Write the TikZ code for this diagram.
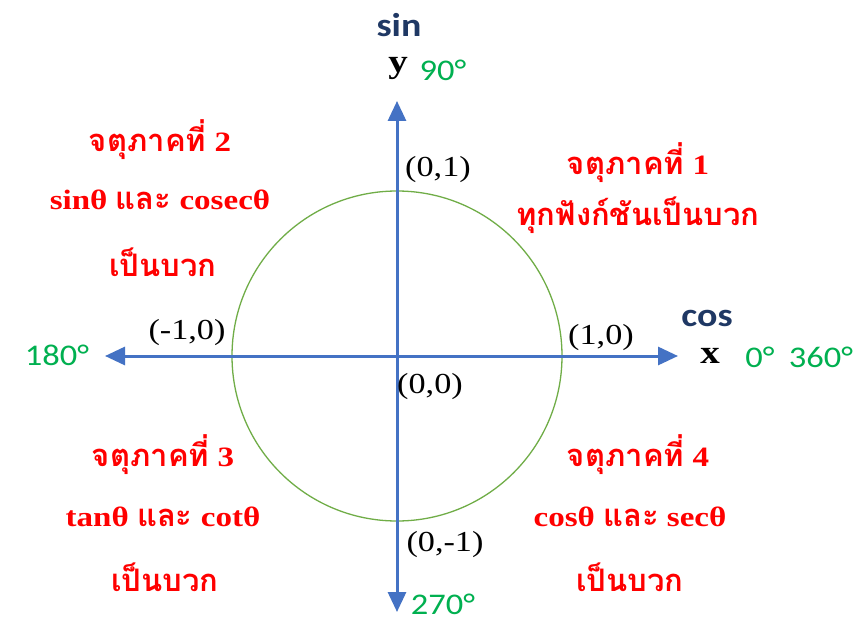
\documentclass[tikz,border=0pt]{standalone}
\usepackage{fontspec}
\setmainfont{Liberation Serif}[FakeStretch=1.18]
\newfontfamily\calib{Carlito}[FakeStretch=1.15]
\newfontfamily\thaifont[Script=Thai]{Loma}
\newcommand\thx[1]{{\thaifont\fontsize{31}{34}\selectfont #1}}
\usetikzlibrary{arrows.meta}
\definecolor{axisblue}{HTML}{4472C4}
\definecolor{circgreen}{HTML}{70AD47}
\definecolor{labgreen}{HTML}{00B050}
\definecolor{navy}{HTML}{1F3864}
\begin{document}
\begin{tikzpicture}[x=1pt,y=-1pt,
  axis/.style={draw=axisblue,line width=3pt,{Triangle[length=20pt,width=18pt]}-{Triangle[length=20pt,width=18pt]}},
  coordlab/.style={inner sep=0pt,font=\fontsize{29}{32}\selectfont},
  varlab/.style={inner sep=0pt,font=\bfseries\fontsize{33}{35}\selectfont},
  trig/.style={inner sep=0pt,text=navy,font=\calib\bfseries\fontsize{33}{36}\selectfont},
  deg/.style={inner sep=0pt,text=labgreen,font=\calib\fontsize{30}{32}\selectfont},
  quad/.style={inner sep=0pt,text=red,font=\bfseries\fontsize{28}{30}\selectfont}]
\useasboundingbox (0,0) rectangle (861,620);
\fill[white] (0,0) rectangle (861,620);
\coordinate (O) at (397,356);
\coordinate (L) at (105,356);
\coordinate (R) at (678,356);
\coordinate (T) at (397,101);
\coordinate (B) at (397,612);
\draw[circgreen,line width=1.3pt] (O) circle[radius=165];
\draw[axis] (L) -- (R);
\draw[axis] (B) -- (T);
% coordinate labels
\node[coordlab] (p01) at (438,170) {(0,1)};
\node[coordlab] (pm10) at (187,333) {(-1,0)};
\node[coordlab] (p10) at (601,338) {(1,0)};
\node[coordlab] (p00) at (430,387) {(0,0)};
\node[coordlab] (p0m1) at (445,545) {(0,-1)};
% axis names
\node[trig] (sin) at (399,25) {sin};
\node[varlab] (y) at (398,68) {y};
\node[deg] (d90) at (443,70) {90°};
\node[trig] (cos) at (707,318) {cos};
\node[varlab] (x) at (710,356) {x};
\node[deg] (d0) at (760,357) {0°};
\node[deg] (d360) at (821,357) {360°};
\node[deg] (d180) at (57,355) {180°};
\node[deg] (d270) at (443,604) {270°};
% quadrant texts
\node[quad] (q2a) at (160,140) {\thx{จตุภาคที่} 2};
\node[quad] (q2b) at (160,200) {sinθ \thx{และ} cosecθ};
\node[quad] (q2c) at (163,262) {\thx{เป็นบวก}};
\node[quad] (q1a) at (638,163) {\thx{จตุภาคที่} 1};
\node[quad] (q1b) at (638,215) {\thx{ทุกฟังก์ชันเป็นบวก}};
\node[quad] (q3a) at (163,455) {\thx{จตุภาคที่} 3};
\node[quad] (q3b) at (163,517) {tanθ \thx{และ} cotθ};
\node[quad] (q3c) at (165,577) {\thx{เป็นบวก}};
\node[quad] (q4a) at (638,455) {\thx{จตุภาคที่} 4};
\node[quad] (q4b) at (630,517) {cosθ \thx{และ} secθ};
\node[quad] (q4c) at (630,577) {\thx{เป็นบวก}};
\end{tikzpicture}
\end{document}
